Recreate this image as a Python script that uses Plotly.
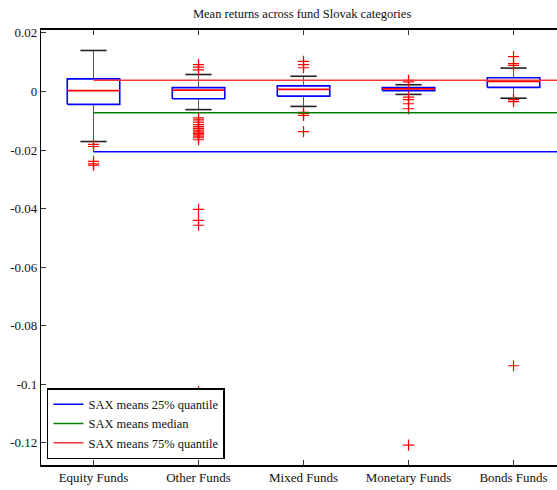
import plotly.graph_objects as go

categories = ["Equity Funds", "Other Funds", "Mixed Funds", "Monetary Funds", "Bonds Funds"]
q1 = [-0.0044, -0.0025, -0.0016, 0.0003, 0.0014]
median = [0.0003, 0.00045, 0.0007, 0.0009, 0.0034]
q3 = [0.0043, 0.0013, 0.0019, 0.0013, 0.0047]
whisker_low = [-0.0171, -0.0062, -0.0051, -0.0010, -0.0023]
whisker_high = [0.0140, 0.0058, 0.0052, 0.0023, 0.0080]
outliers = [
    [-0.0181, -0.0188, -0.0239, -0.0247, -0.0252],
    [0.0092, 0.0083, 0.0074, -0.0090, -0.0097, -0.0105, -0.0113, -0.0120, -0.0126,
     -0.0132, -0.0138, -0.0143, -0.0148, -0.0153, -0.0158, -0.0165,
     -0.0403, -0.0440, -0.0457, -0.1025],
    [0.0103, 0.0092, 0.0081, -0.0071, -0.0076, -0.0082, -0.0137],
    [0.0038, 0.0033, -0.0019, -0.0028, -0.0042, -0.0059, -0.1208],
    [0.0119, 0.0095, 0.0089, -0.0028, -0.0035, -0.0937],
]
sax_q25 = -0.0206
sax_median = -0.0073
sax_q75 = 0.0038
ytick_vals = [0.02, 0, -0.02, -0.04, -0.06, -0.08, -0.1, -0.12]
ytick_text = ["0.02", "0", "-0.02", "-0.04", "-0.06", "-0.08", "-0.1", "-0.12"]

FONT = "Liberation Serif"
BOX_HALF = 0.25
CAP_HALF = 0.125
pos = list(range(1, len(categories) + 1))

fig = go.Figure()

# whisker stems
wx, wy = [], []
for p, lo, a, b, hi in zip(pos, whisker_low, q1, q3, whisker_high):
    wx += [p, p, None, p, p, None]
    wy += [lo, a, None, b, hi, None]
fig.add_trace(go.Scatter(x=wx, y=wy, mode="lines", line=dict(color="#555555", width=1),
                         showlegend=False, hoverinfo="skip"))
# whisker caps
cx, cy = [], []
for p, lo, hi in zip(pos, whisker_low, whisker_high):
    cx += [p - CAP_HALF, p + CAP_HALF, None, p - CAP_HALF, p + CAP_HALF, None]
    cy += [lo, lo, None, hi, hi, None]
fig.add_trace(go.Scatter(x=cx, y=cy, mode="lines", line=dict(color="#222222", width=1.6),
                         showlegend=False, hoverinfo="skip"))
# boxes
bx, by = [], []
for p, a, b in zip(pos, q1, q3):
    bx += [p - BOX_HALF, p + BOX_HALF, p + BOX_HALF, p - BOX_HALF, p - BOX_HALF, None]
    by += [a, a, b, b, a, None]
fig.add_trace(go.Scatter(x=bx, y=by, mode="lines", line=dict(color="#0000ff", width=1.6),
                         showlegend=False, hoverinfo="skip"))
# medians
mx, my = [], []
for p, m in zip(pos, median):
    mx += [p - BOX_HALF, p + BOX_HALF, None]
    my += [m, m, None]
fig.add_trace(go.Scatter(x=mx, y=my, mode="lines", line=dict(color="#ff0000", width=1.6),
                         showlegend=False, hoverinfo="skip"))
# outliers
ox, oy = [], []
for p, outs in zip(pos, outliers):
    for v in outs:
        ox.append(p)
        oy.append(v)
fig.add_trace(go.Scatter(x=ox, y=oy, mode="markers",
                         marker=dict(symbol="cross-thin", size=8,
                                     line=dict(color="#ff0000", width=1.2)),
                         showlegend=False, hoverinfo="skip"))

# SAX quantile lines
for val, name, col in [(sax_q25, "SAX means 25% quantile", "#0000ff"),
                       (sax_median, "SAX means median", "#008000"),
                       (sax_q75, "SAX means 75% quantile", "#ff3333")]:
    fig.add_trace(go.Scatter(x=[1, 6], y=[val, val], mode="lines", name=name,
                             line=dict(color=col, width=1.5)))

fig.update_layout(
    width=557, height=490,
    margin=dict(l=41, r=0, t=30, b=25),
    paper_bgcolor="white", plot_bgcolor="white",
    font=dict(family=FONT, size=13, color="#111111"),
    title=dict(text="Mean returns across fund Slovak categories", x=0.506, xanchor="center",
               xref="paper", y=1 - 14 / 490, yanchor="middle",
               font=dict(family=FONT, size=12.5, color="#111111")),
    showlegend=True,
    legend=dict(x=0.0116, y=6 / 435, xanchor="left", yanchor="bottom",
                bgcolor="white", bordercolor="black", borderwidth=1.5,
                font=dict(family=FONT, size=12.5, color="#111111"),
                itemwidth=30),
)
fig.update_xaxes(range=[0.5, 5.414], tickmode="array", tickvals=pos, ticktext=categories,
                 ticks="inside", ticklen=5, tickcolor="#333333", mirror="ticks",
                 showline=True, linecolor="black", linewidth=1.5, showgrid=False, zeroline=False,
                 tickfont=dict(family=FONT, size=13))
fig.update_yaxes(range=[-0.1276, 0.021], tickmode="array", tickvals=ytick_vals, ticktext=ytick_text,
                 ticks="inside", ticklen=5, tickcolor="#333333", mirror=False,
                 showline=True, linecolor="black", linewidth=1.2, showgrid=False, zeroline=False,
                 tickfont=dict(family=FONT, size=13))

fig.write_html("out.html", config={"displayModeBar": False},
               post_script="document.body.style.margin='0';")
